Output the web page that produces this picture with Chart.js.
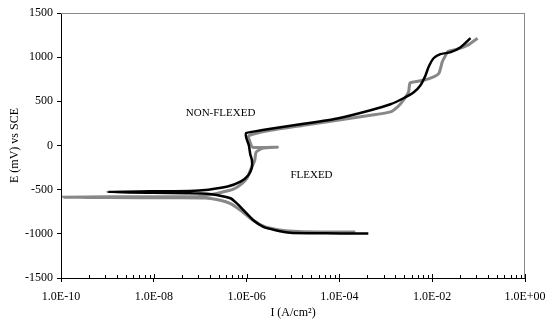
<!DOCTYPE html>
<html>
<head>
<meta charset="utf-8">
<script src="https://cdn.jsdelivr.net/npm/chart.js@4"></script>
<style>
  body { margin: 0; background: #fff; }
  #wrap { width: 551px; height: 328px; position: relative; }
</style>
</head>
<body>
<div id="wrap"><canvas id="chart"></canvas></div>
<script>
// NON-FLEXED: cathodic branch up to Ecorr, back to the left, then anodic branch
const nonFlexedCurrent = [4.2e-4, 1.06e-4, 2.4e-5, 8.8e-6, 4.2e-6, 2.3e-6, 1.4e-6, 8.6e-7, 6.1e-7, 4.5e-7, 2.4e-7, 1.4e-7,
  5.0e-8, 1.0e-8, 1.0e-9, 1.0e-8, 6.0e-8, 1.5e-7, 3.9e-7, 7.4e-7, 1.1e-6, 1.3e-6, 1.3e-6, 1.2e-6, 1.12e-6, 9.8e-7, 9.8e-7,
  1.5e-6, 3.3e-6, 1.7e-5, 9.0e-5, 4.7e-4, 1.26e-3, 2.4e-3, 4.0e-3, 5.6e-3, 7.2e-3, 8.3e-3, 1.07e-2, 1.5e-2, 2.5e-2, 4.1e-2, 6.7e-2];
const nonFlexedPotential = [-995, -995, -993, -988, -959, -922, -846, -733, -653, -597, -563, -545,
  -540, -535, -525, -518, -515, -500, -465, -410, -335, -250, -165, -100, 0, 90, 140,
  160, 190, 245, 305, 399, 467, 535, 603, 683, 796, 886, 988, 1034, 1057, 1113, 1215];

// FLEXED
const flexedCurrent = [2.2e-4, 6.4e-5, 1.7e-5, 6.9e-6, 3.3e-6, 2.0e-6, 1.2e-6, 7.4e-7, 4.5e-7, 2.7e-7, 1.3e-7,
  3.0e-8, 1.0e-9, 1.13e-10, 1.0e-9, 3.0e-8, 1.0e-7, 2.4e-7, 5.2e-7, 8.2e-7, 1.05e-6, 1.2e-6, 1.5e-6, 1.6e-6,
  2.2e-6, 4.6e-6, 1.35e-6, 1.15e-6, 1.1e-6, 1.35e-6, 3.3e-6, 1.7e-5, 9.0e-5, 4.7e-4, 1.26e-3, 1.8e-3, 2.4e-3,
  3.1e-3, 3.3e-3, 4.0e-3, 6.5e-3, 1.07e-2, 1.4e-2, 1.65e-2, 1.95e-2, 2.25e-2, 3.5e-2, 5.8e-2, 9.5e-2];
const flexedPotential = [-978, -978, -976, -965, -937, -897, -823, -733, -659, -620, -595,
  -592, -590, -585, -580, -580, -578, -540, -495, -427, -359, -280, -167, -76,
  -31, -19, -19, 60, 105, 128, 172, 229, 286, 342, 380, 437, 513,
  607, 706, 720, 739, 777, 819, 947, 1023, 1068, 1091, 1136, 1215];

const xMajorTicks = [1e-10, 1e-8, 1e-6, 1e-4, 1e-2, 1];
const xTickLabels = ['1.0E-10', '1.0E-08', '1.0E-06', '1.0E-04', '1.0E-02', '1.0E+00'];
const xMinorFactors = [4, 9, 16, 25, 36, 49, 64, 81];

const curveLabels = [
  { text: 'NON-FLEXED', x: 2.75e-7, y: 368 },
  { text: 'FLEXED', x: 2.5e-5, y: -334 }
];

const toPoints = (xs, ys) => xs.map((x, i) => ({ x: x, y: ys[i] }));

Chart.defaults.font.family = "'Liberation Serif', 'Times New Roman', serif";
Chart.defaults.font.size = 12;
Chart.defaults.color = '#000';

// gray frame on top and right of the plot area
const frame = {
  id: 'frame',
  beforeDatasetsDraw(chart) {
    const { ctx, chartArea: a } = chart;
    ctx.save();
    ctx.fillStyle = '#8a8a8a';
    ctx.fillRect(a.left, Math.round(a.top), a.right - a.left, 1);
    ctx.fillRect(Math.round(a.right) - 1, a.top, 1, a.bottom - a.top);
    ctx.restore();
  }
};

// text labels, plus the inner part of the x tick marks
const overlay = {
  id: 'overlay',
  afterDatasetsDraw(chart) {
    const ctx = chart.ctx;
    const a = chart.chartArea;
    const x = chart.scales.x;
    const y = chart.scales.y;
    ctx.save();
    ctx.fillStyle = '#000';
    const axisY = Math.round(a.bottom);
    x.ticks.forEach(t => {
      const px = Math.round(x.getPixelForValue(t.value));
      ctx.fillRect(px, axisY - (t.major ? 4 : 3), 1, t.major ? 4 : 3);
    });
    ctx.font = "11px 'Liberation Serif', 'Times New Roman', serif";
    ctx.textAlign = 'center';
    ctx.textBaseline = 'middle';
    curveLabels.forEach(l => ctx.fillText(l.text, x.getPixelForValue(l.x), y.getPixelForValue(l.y)));
    ctx.restore();
  }
};

new Chart(document.getElementById('chart'), {
  type: 'scatter',
  data: {
    datasets: [{
      label: 'NON-FLEXED',
      data: toPoints(nonFlexedCurrent, nonFlexedPotential),
      showLine: true,
      borderColor: '#000',
      borderWidth: 2.5,
      pointRadius: 0,
      tension: 0.2
    }, {
      label: 'FLEXED',
      data: toPoints(flexedCurrent, flexedPotential),
      showLine: true,
      borderColor: '#888',
      borderWidth: 3,
      pointRadius: 0,
      tension: 0.2
    }]
  },
  options: {
    responsive: true,
    maintainAspectRatio: false,
    animation: false,
    layout: { padding: { top: 13, right: 26, left: 0, bottom: 0 } },
    plugins: {
      legend: { display: false },
      tooltip: { enabled: false }
    },
    scales: {
      x: {
        type: 'logarithmic',
        min: 1e-10,
        max: 1,
        afterBuildTicks(scale) {
          const ticks = [];
          xMajorTicks.forEach((v, i) => {
            ticks.push({ value: v, major: true });
            if (i < xMajorTicks.length - 1) {
              xMinorFactors.forEach(f => ticks.push({ value: v * f, major: false }));
            }
          });
          scale.ticks = ticks;
        },
        afterFit(scale) {
          scale.height = 50;
          scale.paddingLeft = 0;
          scale.paddingRight = 0;
        },
        grid: {
          drawOnChartArea: false,
          tickLength: 4,
          tickColor: c => (c.tick && c.tick.major ? '#000' : 'rgba(0,0,0,0)')
        },
        border: { display: true, color: '#000', width: 1 },
        ticks: {
          autoSkip: false,
          maxRotation: 0,
          padding: 8,
          callback(value) {
            const i = xMajorTicks.findIndex(v => Math.abs(Math.log10(v) - Math.log10(value)) < 1e-6);
            return i >= 0 ? xTickLabels[i] : '';
          }
        },
        title: {
          display: true,
          text: 'I (A/cm²)',
          padding: { top: 0, bottom: 8 }
        }
      },
      y: {
        min: -1500,
        max: 1500,
        afterFit(scale) {
          scale.width = 61;
          scale.paddingTop = 0;
          scale.paddingBottom = 0;
        },
        grid: { drawOnChartArea: false, tickLength: 4, color: '#000' },
        border: { display: true, color: '#000', width: 1 },
        ticks: { stepSize: 500, padding: 4, callback: v => String(v) },
        title: {
          display: true,
          text: 'E (mV) vs SCE',
          padding: { top: 8, bottom: 0 }
        }
      }
    }
  },
  plugins: [frame, overlay]
});
</script>
</body>
</html>
